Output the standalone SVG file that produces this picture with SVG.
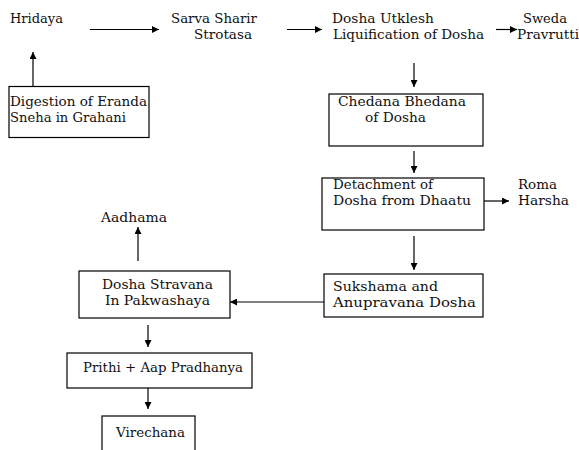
<svg xmlns="http://www.w3.org/2000/svg" width="579" height="450" viewBox="0 0 579 450">
<defs>
<marker id="ah" viewBox="0 0 10 10" refX="10" refY="5" markerWidth="7" markerHeight="7" markerUnits="userSpaceOnUse" orient="auto">
<path d="M0,0 L10,5 L0,10 z" fill="#000"/>
</marker>
<style>
text{font-family:"DejaVu Serif","Liberation Serif",serif;font-size:13px;fill:#111}
.box{fill:#fff;stroke:#000;stroke-width:1.2}
.c{stroke:#000;stroke-width:1.2;fill:none;marker-end:url(#ah)}
</style>
</defs>
<rect width="579" height="450" fill="#fff"/>
<g id="connectors">
<line class="c" x1="90" y1="29.5" x2="159" y2="29.5"/>
<line class="c" x1="287" y1="29.5" x2="322" y2="29.5"/>
<line class="c" x1="496" y1="29.5" x2="517" y2="29.5"/>
<line class="c" x1="33" y1="86" x2="33" y2="52"/>
<line class="c" x1="414" y1="63" x2="414" y2="87"/>
<line class="c" x1="414" y1="151" x2="414" y2="173"/>
<line class="c" x1="484" y1="201" x2="509" y2="201"/>
<line class="c" x1="414" y1="236" x2="414" y2="270"/>
<line class="c" x1="324" y1="302" x2="230" y2="302"/>
<line class="c" x1="138" y1="261" x2="138" y2="227"/>
<line class="c" x1="148" y1="325" x2="148" y2="347"/>
<line class="c" x1="148" y1="388" x2="148" y2="409"/>
</g>
<g id="hridaya"><text x="10" y="23" textLength="53" lengthAdjust="spacingAndGlyphs">Hridaya</text></g>
<g id="sarva"><text x="171" y="23" textLength="86" lengthAdjust="spacingAndGlyphs">Sarva Sharir</text><text x="194" y="39" textLength="58" lengthAdjust="spacingAndGlyphs">Strotasa</text></g>
<g id="utklesh"><text x="332" y="23" textLength="102" lengthAdjust="spacingAndGlyphs">Dosha Utklesh</text><text x="333" y="39" textLength="151" lengthAdjust="spacingAndGlyphs">Liquification of Dosha</text></g>
<g id="sweda"><text x="523" y="23" textLength="44" lengthAdjust="spacingAndGlyphs">Sweda</text><text x="517" y="39" textLength="62" lengthAdjust="spacingAndGlyphs">Pravrutti</text></g>
<g id="digestion"><rect class="box" x="9" y="86.5" width="140" height="51"/><text x="10" y="106" textLength="137" lengthAdjust="spacingAndGlyphs">Digestion of Eranda</text><text x="10" y="122" textLength="116" lengthAdjust="spacingAndGlyphs">Sneha in Grahani</text></g>
<g id="chedana"><rect class="box" x="329" y="94" width="154" height="52"/><text x="338" y="106" textLength="128" lengthAdjust="spacingAndGlyphs">Chedana Bhedana</text><text x="365" y="122" textLength="61" lengthAdjust="spacingAndGlyphs">of Dosha</text></g>
<g id="detachment"><rect class="box" x="322" y="178" width="162" height="52"/><text x="333" y="189" textLength="100" lengthAdjust="spacingAndGlyphs">Detachment of</text><text x="333" y="205" textLength="138" lengthAdjust="spacingAndGlyphs">Dosha from Dhaatu</text></g>
<g id="roma"><text x="518" y="189" textLength="39" lengthAdjust="spacingAndGlyphs">Roma</text><text x="518" y="205" textLength="51" lengthAdjust="spacingAndGlyphs">Harsha</text></g>
<g id="sukshama"><rect class="box" x="324" y="274" width="159" height="43"/><text x="333" y="291" textLength="105" lengthAdjust="spacingAndGlyphs">Sukshama and</text><text x="333" y="307" textLength="143" lengthAdjust="spacingAndGlyphs">Anupravana Dosha</text></g>
<g id="aadhama"><text x="101" y="222" textLength="66" lengthAdjust="spacingAndGlyphs">Aadhama</text></g>
<g id="stravana"><rect class="box" x="79" y="271" width="151" height="47"/><text x="102" y="289" textLength="111" lengthAdjust="spacingAndGlyphs">Dosha Stravana</text><text x="105" y="305" textLength="105" lengthAdjust="spacingAndGlyphs">In Pakwashaya</text></g>
<g id="prithi"><rect class="box" x="67" y="353" width="185" height="35"/><text x="83" y="372" textLength="160" lengthAdjust="spacingAndGlyphs">Prithi + Aap Pradhanya</text></g>
<g id="virechana"><rect class="box" x="102" y="416" width="93" height="40"/><text x="116" y="437" textLength="69" lengthAdjust="spacingAndGlyphs">Virechana</text></g>
</svg>
